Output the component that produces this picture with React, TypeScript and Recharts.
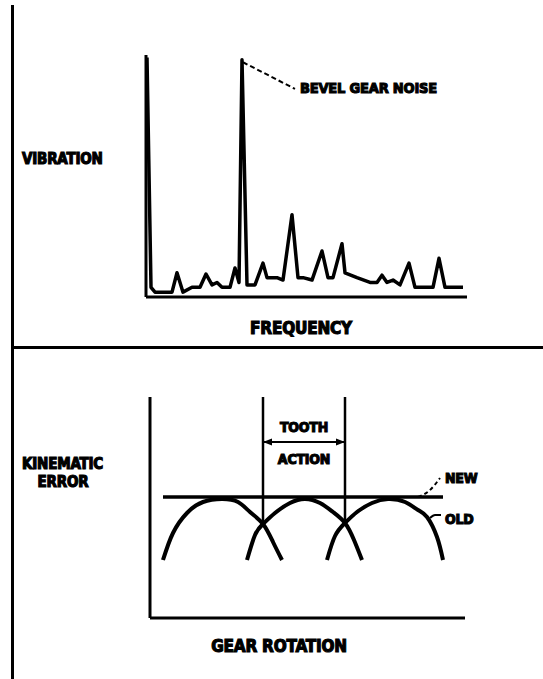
import React from 'react';
import { LineChart, Line, XAxis, YAxis } from 'recharts';

// ---- Top panel: vibration spectrum (frequency units, amplitude 0-100)
const spectrumFreq = [1, 5, 9, 14, 26, 31, 37, 46, 54, 60, 66, 71, 76, 84, 89, 93, 96, 101, 109, 117, 121, 131, 137, 146, 152, 157, 166, 176, 182, 187, 196, 199, 211, 224, 231, 236, 241, 247, 254, 263, 269, 281, 287, 293, 299, 307, 317];
const spectrumAmp = [99, 4, 2, 2, 2, 10, 2, 4, 4, 9.5, 5, 6, 4, 4, 12, 6, 98, 5, 5, 14, 8, 8, 7, 34, 8, 8, 7, 19, 8, 8, 22, 10, 8, 6, 6, 9, 6, 7, 5, 14, 4, 4, 4, 16, 4, 4, 4];
const bevelLeaderFreq = [97, 149];
const bevelLeaderAmp = [97, 86];

// ---- Bottom panel: kinematic error vs gear rotation
const arc1Rot = [13, 23, 37, 53, 72, 88, 100, 113, 123, 132];
const arc1Err = [58, 85, 105, 116, 119, 116, 106, 94, 76, 58];
const arc2Rot = [97, 105, 113, 125, 140, 155, 170, 183, 195, 204, 212];
const arc2Err = [58, 83, 94, 105, 115, 119, 115, 106, 95, 78, 58];
const arc3Rot = [177, 185, 195, 207, 222, 238, 255, 268, 277, 287, 293];
const arc3Err = [58, 82, 95, 106, 115, 119, 116, 108, 101, 81, 58];
const newRot = [13, 293];
const newErr = [121, 121];
const tooth1Rot = [113, 113];
const tooth2Rot = [195, 195];
const toothErr = [221, 94];
const arrowRot = [114, 194];
const arrowErr = [176, 176];
const newLeaderRot = [268, 279, 290];
const newLeaderErr = [121, 127, 140];
const oldLeaderRot = [280, 285, 291];
const oldLeaderErr = [100, 103, 103];

const labels = {
  vibration: 'VIBRATION',
  frequency: 'FREQUENCY',
  bevel: 'BEVEL GEAR NOISE',
  kinematic: 'KINEMATIC',
  error: 'ERROR',
  rotation: 'GEAR ROTATION',
  tooth: 'TOOTH',
  action: 'ACTION',
  newL: 'NEW',
  oldL: 'OLD',
};

const zip = (xs: number[], ys: number[]) => xs.map((x, i) => ({ x, y: ys[i] }));

const FONT = "'Liberation Sans Narrow', 'DejaVu Sans Condensed', 'Liberation Sans', Arial, sans-serif";

const textStyle = (size: number): React.CSSProperties => ({
  position: 'absolute',
  fontFamily: FONT,
  fontWeight: 700,
  fontSize: size,
  lineHeight: 1,
  color: '#000',
  whiteSpace: 'nowrap',
  WebkitTextStroke: '1.1px #000',
  letterSpacing: -0.2,
});

const ArrowDot = (props: any) => {
  const { cx, cy, index } = props;
  if (cx == null || cy == null) return <g key={`a-${index}`} />;
  const pts = index === 0
    ? `${cx - 1},${cy} ${cx + 8},${cy - 3.5} ${cx + 8},${cy + 3.5}`
    : `${cx + 1},${cy} ${cx - 8},${cy - 3.5} ${cx - 8},${cy + 3.5}`;
  return <polygon key={`a-${index}`} points={pts} fill="#000" />;
};

const axisProps = { stroke: '#000', strokeWidth: 3 };

export default function App() {
  const spectrum = zip(spectrumFreq, spectrumAmp);
  const bevelLeader = zip(bevelLeaderFreq, bevelLeaderAmp);
  return (
    <div style={{ position: 'absolute', left: 0, top: 0, width: 543, height: 679, background: '#fff', overflow: 'hidden' }}>
      {/* frame */}
      <div style={{ position: 'absolute', left: 11, top: 5, width: 3, height: 674, background: '#000' }} />
      <div style={{ position: 'absolute', left: 11, top: 346, width: 532, height: 2.5, background: '#000' }} />

      {/* top chart */}
      <div style={{ position: 'absolute', left: 136, top: 45 }}>
        <LineChart width={341} height={262} margin={{ top: 10, right: 10, bottom: 9, left: 9 }}>
          <XAxis type="number" dataKey="x" domain={[0, 321]} height={1} tick={false} tickLine={false} axisLine={axisProps} allowDataOverflow />
          <YAxis type="number" dataKey="y" domain={[0, 100]} width={1} tick={false} tickLine={false} axisLine={axisProps} allowDataOverflow />
          <Line data={spectrum} dataKey="y" type="linear" stroke="#000" strokeWidth={3.5} strokeLinejoin="round" dot={false} isAnimationActive={false} />
          <Line data={bevelLeader} dataKey="y" type="linear" stroke="#000" strokeWidth={2} strokeDasharray="5 3" dot={false} isAnimationActive={false} />
        </LineChart>
      </div>

      {/* bottom chart */}
      <div style={{ position: 'absolute', left: 140, top: 387 }}>
        <LineChart width={335} height={241} margin={{ top: 10, right: 10, bottom: 9, left: 9 }}>
          <XAxis type="number" dataKey="x" domain={[0, 315]} height={1} tick={false} tickLine={false} axisLine={axisProps} allowDataOverflow />
          <YAxis type="number" dataKey="y" domain={[0, 221]} width={1} tick={false} tickLine={false} axisLine={axisProps} allowDataOverflow />
          <Line data={zip(arc1Rot, arc1Err)} dataKey="y" type="natural" stroke="#000" strokeWidth={4} dot={false} isAnimationActive={false} />
          <Line data={zip(arc2Rot, arc2Err)} dataKey="y" type="natural" stroke="#000" strokeWidth={4} dot={false} isAnimationActive={false} />
          <Line data={zip(arc3Rot, arc3Err)} dataKey="y" type="natural" stroke="#000" strokeWidth={4} dot={false} isAnimationActive={false} />
          <Line data={zip(newRot, newErr)} dataKey="y" type="linear" stroke="#000" strokeWidth={3.5} dot={false} isAnimationActive={false} />
          <Line data={zip(tooth1Rot, toothErr)} dataKey="y" type="linear" stroke="#000" strokeWidth={2.5} dot={false} isAnimationActive={false} />
          <Line data={zip(tooth2Rot, toothErr)} dataKey="y" type="linear" stroke="#000" strokeWidth={2.5} dot={false} isAnimationActive={false} />
          <Line data={zip(arrowRot, arrowErr)} dataKey="y" type="linear" stroke="#000" strokeWidth={2} dot={ArrowDot} isAnimationActive={false} />
          <Line data={zip(newLeaderRot, newLeaderErr)} dataKey="y" type="monotone" stroke="#000" strokeWidth={2} strokeDasharray="4 3" dot={false} isAnimationActive={false} />
          <Line data={zip(oldLeaderRot, oldLeaderErr)} dataKey="y" type="monotone" stroke="#000" strokeWidth={2} dot={false} isAnimationActive={false} />
        </LineChart>
      </div>

      {/* texts */}
      <div style={{ ...textStyle(15), left: 22, top: 152 }}>{labels.vibration}</div>
      <div style={{ ...textStyle(17), left: 301, top: 320, transform: 'translateX(-50%)' }}>{labels.frequency}</div>
      <div style={{ ...textStyle(14.5), left: 300, top: 81 }}>{labels.bevel}</div>
      <div style={{ ...textStyle(15), left: 22, top: 457 }}>{labels.kinematic}</div>
      <div style={{ ...textStyle(15), left: 63, top: 475, transform: 'translateX(-50%)' }}>{labels.error}</div>
      <div style={{ ...textStyle(17), left: 279, top: 638, transform: 'translateX(-50%)' }}>{labels.rotation}</div>
      <div style={{ ...textStyle(14), left: 304, top: 420, transform: 'translateX(-50%)' }}>{labels.tooth}</div>
      <div style={{ ...textStyle(14), left: 304, top: 452, transform: 'translateX(-50%)' }}>{labels.action}</div>
      <div style={{ ...textStyle(14), left: 445, top: 471 }}>{labels.newL}</div>
      <div style={{ ...textStyle(14), left: 445, top: 512 }}>{labels.oldL}</div>
    </div>
  );
}
